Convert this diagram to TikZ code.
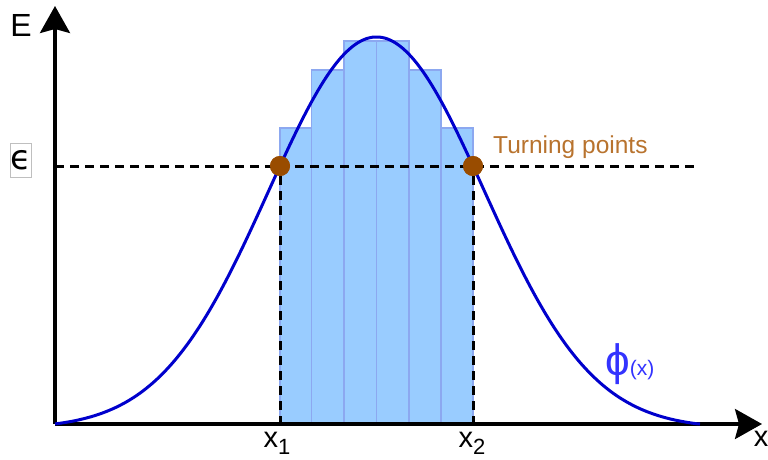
\documentclass[tikz,border=0pt]{standalone}
\usepackage{fontspec}
\setmainfont{Liberation Sans}
\newfontfamily\dejavu{DejaVu Sans}
\usetikzlibrary{arrows.meta}
\definecolor{barfill}{HTML}{99CCFF}
\definecolor{baredge}{HTML}{8CA8F0}
\definecolor{curveblue}{HTML}{0000CC}
\definecolor{phiblue}{HTML}{3333FF}
\definecolor{tpbrown}{HTML}{994C00}
\definecolor{tptext}{HTML}{B8732E}
\tikzset{
  bar/.style={fill=barfill, draw=baredge, line width=1.5pt},
  axis/.style={line width=3.2pt, -{Stealth[length=27pt,width=30pt,inset=4pt]}},
  dashline/.style={line width=3pt, dash pattern=on 9pt off 6pt},
  tpoint/.style={circle, fill=tpbrown, minimum size=20pt, inner sep=0pt},
  curve/.style={curveblue, line width=3pt},
  lbl/.style={inner sep=0pt, font=\fontsize{29}{31}\selectfont}
}
\begin{document}
\begin{tikzpicture}[x=1pt,y=-1pt]
\useasboundingbox (0,0) rectangle (768,460);
% bars
\path[bar] (280,424) rectangle (311.7,128);
\path[bar] (311.7,424) rectangle (344,70);
\path[bar] (344,424) rectangle (376.7,41);
\path[bar] (376.7,424) rectangle (409,41);
\path[bar] (409,424) rectangle (441,70);
\path[bar] (441,424) rectangle (473,128);
% coordinates
\coordinate (O) at (55,424);
\coordinate (ytip) at (55,6);
\coordinate (xtip) at (762,424);
\coordinate (eps0) at (55,166);
\coordinate (eps1) at (697,166);
\coordinate (b1) at (280,424);
\coordinate (b2) at (473,424);
\node[tpoint] (tp1) at (280,166) {};
\node[tpoint] (tp2) at (473,166) {};
% dashed lines
\draw[dashline] (eps0) -- (eps1);
\draw[dashline] (tp1) -- (b1);
\draw[dashline] (tp2) -- (b2);
% axes
\draw[axis] (O) -- (ytip);
\draw[axis] (O) -- (xtip);
% curve
\draw[curve] plot[domain=55:700, samples=220, smooth] (\x, {424 - 387*max(0,(exp(-0.5*((\x-376.5)/107.9)^2)-0.0116)/0.9884)});
% redraw points on top
\node[tpoint] at (tp1) {};
\node[tpoint] at (tp2) {};
% labels
\node[inner sep=0pt, font=\fontsize{32}{34}\selectfont] (E) at (21,25) {E};
\node[lbl, anchor=north] (xl) at (761,431) {x};
\node[lbl, anchor=base] (x1) at (277,447) {x\raisebox{-7pt}{\fontsize{22}{24}\selectfont 1}};
\node[lbl, anchor=base] (x2) at (472,447) {x\raisebox{-7pt}{\fontsize{22}{24}\selectfont 2}};
\node[draw=black!25, line width=0.8pt, inner sep=0pt, minimum width=14pt, minimum height=34pt] (eps) at (21,160) {\dejavu\fontsize{34}{36}\selectfont ϵ};
\node[anchor=base west, inner sep=0pt, text=tptext, font=\fontsize{24.5}{26}\selectfont] (tp) at (493,153) {Turning points};
\node[anchor=base west, inner sep=0pt, text=phiblue] (phi) at (605,375) {\fontsize{44}{46}\selectfont ϕ\fontsize{21}{23}\selectfont(x)};
\end{tikzpicture}
\end{document}
